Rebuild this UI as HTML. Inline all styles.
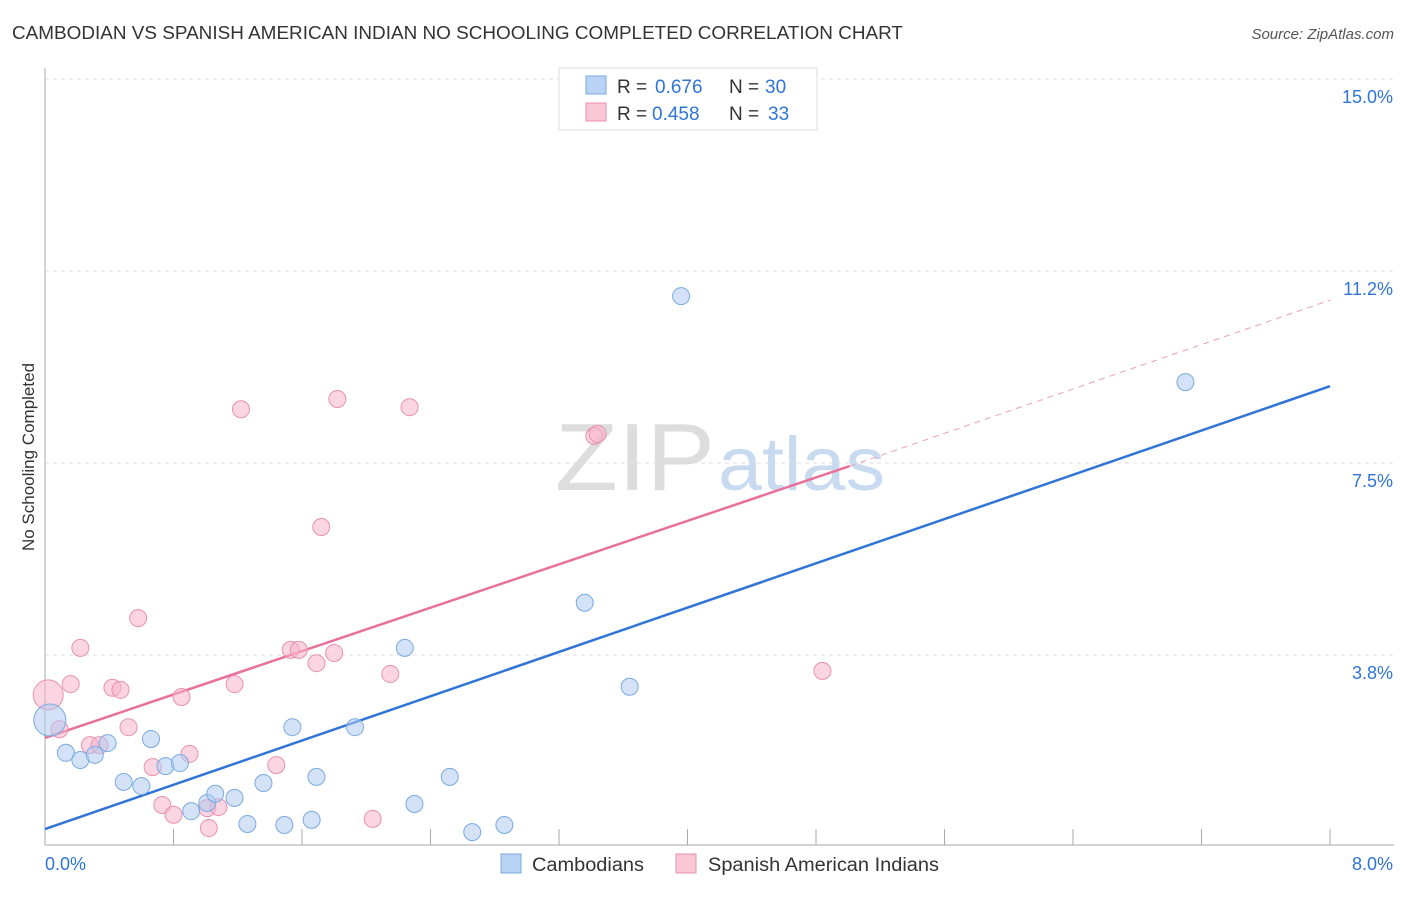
<!DOCTYPE html>
<html><head><meta charset="utf-8"><style>
body{margin:0;background:#fff;font-family:"Liberation Sans",sans-serif;}
svg text{font-family:"Liberation Sans",sans-serif;}
</style></head><body>
<svg id="chart" width="1406" height="892">
<text x="12" y="39" font-size="18" fill="#333" textLength="891" lengthAdjust="spacingAndGlyphs">CAMBODIAN VS SPANISH AMERICAN INDIAN NO SCHOOLING COMPLETED CORRELATION CHART</text>
<text x="1394" y="39" font-size="15" fill="#555" font-style="italic" text-anchor="end">Source: ZipAtlas.com</text>
<text x="34" y="457" font-size="17" fill="#333" text-anchor="middle" transform="rotate(-90 34 457)">No Schooling Completed</text>
<g>
<text x="555" y="490" font-size="96" fill="#ddd" font-family="Liberation Serif" textLength="160" lengthAdjust="spacingAndGlyphs">ZIP</text>
<text x="718" y="490" font-size="76" fill="#c8daf0" textLength="167" lengthAdjust="spacingAndGlyphs">atlas</text>
</g>
<g id="grid"></g><g id="axes"></g><g id="lines"></g><g id="pts"></g>
<g>
<rect x="559" y="68" width="258" height="62" fill="#fff" stroke="#ddd"/>
<rect x="586" y="76" width="20" height="18" fill="#b9d3f5" stroke="#7aaae0"/>
<text y="93" font-size="19" fill="#333"><tspan x="617">R =</tspan><tspan x="655" fill="#2f74d6">0.676</tspan><tspan x="729">N =</tspan><tspan x="765" fill="#2f74d6">30</tspan></text>
<rect x="586" y="103" width="20" height="18" fill="#f9c6d6" stroke="#e890b0"/>
<text y="120" font-size="19" fill="#333"><tspan x="617">R =</tspan><tspan x="652" fill="#2f74d6">0.458</tspan><tspan x="729">N =</tspan><tspan x="768" fill="#2f74d6">33</tspan></text>
</g>
<g>
<rect x="501" y="854" width="20" height="19" fill="#b9d3f5" stroke="#7aaae0"/>
<text x="532" y="871" font-size="19" fill="#333" textLength="112" lengthAdjust="spacingAndGlyphs">Cambodians</text>
<rect x="676" y="854" width="20" height="19" fill="#f9c6d6" stroke="#e890b0"/>
<text x="708" y="871" font-size="19" fill="#333" textLength="231" lengthAdjust="spacingAndGlyphs">Spanish American Indians</text>
</g>
</svg>
<script>
const blueX=[0.03,0.13,0.22,0.31,0.39,0.49,0.60,0.66,0.75,0.84,0.91,1.01,1.06,1.18,1.26,1.36,1.49,1.54,1.66,1.69,1.93,2.24,2.30,2.52,2.66,2.86,3.36,3.64,3.96,7.10];
const blueY=[2.48,1.84,1.70,1.80,2.03,1.27,1.19,2.11,1.58,1.64,0.70,0.86,1.04,0.96,0.45,1.25,0.43,2.34,0.53,1.37,2.34,3.89,0.84,1.37,0.29,0.43,4.77,3.13,10.76,9.08];
const pinkX=[0.02,0.09,0.16,0.22,0.28,0.34,0.42,0.47,0.52,0.58,0.67,0.73,0.80,0.85,0.90,1.01,1.02,1.08,1.18,1.22,1.44,1.53,1.58,1.69,1.72,1.80,1.82,2.04,2.15,2.27,3.42,3.44,4.84];
const pinkY=[2.97,2.30,3.18,3.89,1.99,1.99,3.11,3.07,2.34,4.47,1.56,0.82,0.63,2.93,1.82,0.76,0.37,0.78,3.18,8.55,1.60,3.85,3.85,3.59,6.25,3.79,8.75,0.55,3.38,8.59,8.03,8.07,3.44];
const yTicks=[3.75,7.5,11.25,15];
const yTickLabels=["3.8%","7.5%","11.2%","15.0%"];
const xTicks=[0,0.8,1.6,2.4,3.2,4.0,4.8,5.6,6.4,7.2,8.0];
const blueLine=[0.35,9.0];
const pinkLine=[2.13,7.44,10.68]; const pinkSolidEnd=5.01;
const X=v=>45+v/8*1285, Y=v=>847-v*51.2;
const NS="http://www.w3.org/2000/svg";
function mk(p,t,a){const e=document.createElementNS(NS,t);for(const k in a)e.setAttribute(k,a[k]);p.appendChild(e);return e;}
const grid=document.getElementById('grid'),axes=document.getElementById('axes'),lines=document.getElementById('lines'),pts=document.getElementById('pts');
yTicks.forEach((t,i)=>{
 const l=mk(grid,'line',{x1:45,x2:1394,y1:Y(t),y2:Y(t),stroke:'#ddd','stroke-dasharray':'4,4'});
 
 
 const tx=mk(axes,'text',{x:1393,y:Y(t)+24,'font-size':18,fill:'#2f74d6','text-anchor':'end'});tx.textContent=yTickLabels[i];
 
 
});
const al=mk(axes,'line',{x1:45,x2:45,y1:68,y2:845,stroke:'#aaa'});


const bl=mk(axes,'line',{x1:45,x2:1394,y1:845,y2:845,stroke:'#aaa'});


xTicks.forEach(t=>{const l=mk(axes,'line',{x1:X(t),x2:X(t),y1:829,y2:845,stroke:'#aaa'});
 
 });
[["0.0%",45,'start'],["8.0%",1393,'end']].forEach(([s,x,a])=>{const t=mk(axes,'text',{x:x,y:870,'font-size':18,fill:'#2f74d6','text-anchor':a});t.textContent=s;
 
 });
let e=mk(lines,'line',{x1:X(pinkSolidEnd),y1:Y(pinkLine[1]),x2:X(8),y2:Y(pinkLine[2]),stroke:'#e8a0b8','stroke-dasharray':'6,5','stroke-width':1});


e=mk(lines,'line',{x1:X(0),y1:Y(pinkLine[0]),x2:X(pinkSolidEnd),y2:Y(pinkLine[1]),stroke:'#e8709a','stroke-width':2.5});


e=mk(lines,'line',{x1:X(0),y1:Y(blueLine[0]),x2:X(8),y2:Y(blueLine[1]),stroke:'#2f74d6','stroke-width':2.5});


pinkX.forEach((x,i)=>{const c=mk(pts,'circle',{cx:X(x),cy:Y(pinkY[i]),r:i==0?15:8.5,fill:'rgba(247,180,202,0.55)',stroke:'#e890b0','stroke-width':1});
 
 });
blueX.forEach((x,i)=>{const c=mk(pts,'circle',{cx:X(x),cy:Y(blueY[i]),r:i==0?16:8.5,fill:'rgba(174,203,240,0.55)',stroke:'#7aaae0','stroke-width':1});
 
 });
</script>
</body></html>
